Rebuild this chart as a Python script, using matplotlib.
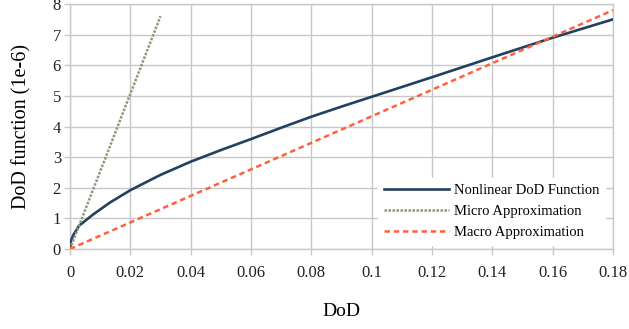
import numpy as np
import matplotlib
matplotlib.use('Agg')
import matplotlib.pyplot as plt

plt.rc('font', family='Liberation Serif')

# nonlinear DoD function
dod = [0, 0.0003, 0.001, 0.003, 0.0077, 0.0133, 0.02, 0.03, 0.04, 0.05,
       0.06, 0.07, 0.08, 0.09, 0.1, 0.12, 0.14, 0.16, 0.18]
nonlinear = [0, 0.25, 0.44, 0.76, 1.13, 1.52, 1.92, 2.42, 2.85, 3.23,
             3.59, 3.96, 4.32, 4.65, 4.97, 5.61, 6.26, 6.9, 7.5]

# linear approximations (end points)
micro_x = [0, 0.03]
micro_y = [0, 7.6]
macro_x = [0, 0.18]
macro_y = [0, 7.8]

xticks = [0, 0.02, 0.04, 0.06, 0.08, 0.1, 0.12, 0.14, 0.16, 0.18]
xticklabels = ['0', '0.02', '0.04', '0.06', '0.08', '0.1', '0.12', '0.14', '0.16', '0.18']
yticks = [0, 1, 2, 3, 4, 5, 6, 7, 8]

grid_c = '#c8c8c8'

fig = plt.figure(figsize=(6.29, 3.29), dpi=100)
ax = fig.add_axes([0.1113, 0.2432, 0.8633, 0.7446])

ax.plot(dod, nonlinear, '-', color='#23405f', linewidth=1.9, label='Nonlinear DoD Function', zorder=3)
ax.plot(micro_x, micro_y, linestyle=(0, (1, 0.6)), color='#8b9a78', linewidth=1.8,
        label='Micro Approximation', zorder=3)
ax.plot(macro_x, macro_y, linestyle=(0, (2.2, 1.5)), color='#ff6040', linewidth=1.8,
        label='Macro Approximation', zorder=3)

ax.set_xlim(0, 0.18)
ax.set_ylim(0, 8)
ax.set_xticks(xticks)
ax.set_xticklabels(xticklabels)
ax.set_yticks(yticks)
ax.grid(color=grid_c, linewidth=1.0)
ax.set_axisbelow(True)
for s in ax.spines.values():
    s.set_color(grid_c)
    s.set_linewidth(1.0)
ax.tick_params(axis='both', colors=grid_c, labelcolor='#222222', labelsize=12, length=4.5, width=1.0)
ax.tick_params(axis='x', pad=7)
ax.tick_params(axis='y', pad=2)

ax.set_xlabel('DoD', fontsize=14, labelpad=16)
ax.set_ylabel('DoD function (1e-6)', fontsize=14.5, labelpad=15)

leg = ax.legend(loc='lower right', bbox_to_anchor=(0.985, 0.015), fontsize=10.5, frameon=True,
                fancybox=False, edgecolor='white', framealpha=1.0, handlelength=4.5,
                handletextpad=0.3, labelspacing=0.55, borderaxespad=0.)

fig.savefig('out.png', dpi=100)
